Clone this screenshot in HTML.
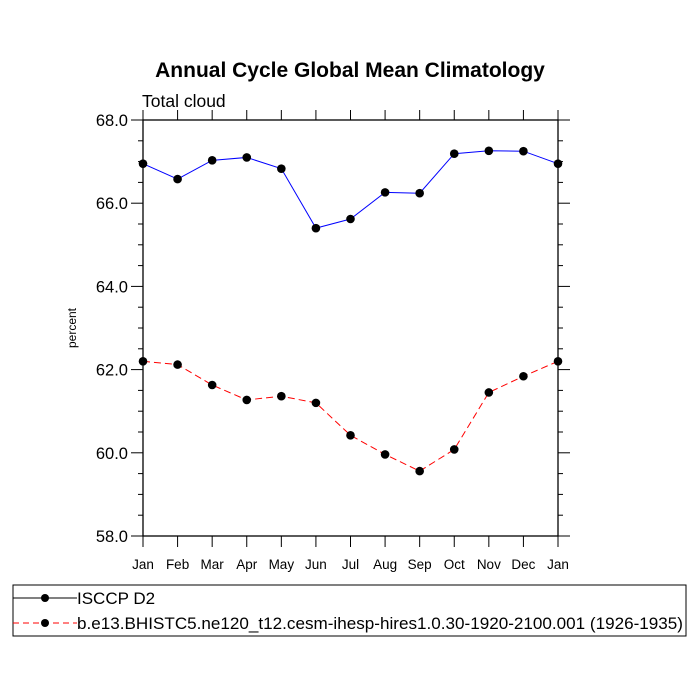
<!DOCTYPE html>
<html><head><meta charset="utf-8"><style>
html,body{margin:0;padding:0;background:#fff;}
svg{display:block;font-family:"Liberation Sans",sans-serif;}
</style></head><body>
<svg width="700" height="700" viewBox="0 0 700 700">
<text x="350" y="77" text-anchor="middle" font-size="21" font-weight="bold">Annual Cycle Global Mean Climatology</text>
<text x="142" y="107" font-size="17.5">Total cloud</text>
<text transform="translate(76,328) rotate(-90)" text-anchor="middle" font-size="12">percent</text>
<g id="axes"></g>
<g id="series"></g>
<rect x="13" y="585" width="673" height="51" fill="none" stroke="#000" stroke-width="1"/>
<g>
<line x1="13" y1="598" x2="77" y2="598" stroke="#000" stroke-width="1"/>
<circle cx="45" cy="598" r="4" fill="#000"/>
<text x="77" y="604" font-size="17">ISCCP D2</text></g>
<g>
<line x1="13" y1="623" x2="77" y2="623" stroke="#f00" stroke-width="1" stroke-dasharray="6,4"/>
<circle cx="45" cy="623" r="4" fill="#000"/>
<text x="77" y="629" font-size="17" textLength="606" lengthAdjust="spacingAndGlyphs">b.e13.BHISTC5.ne120_t12.cesm-ihesp-hires1.0.30-1920-2100.001 (1926-1935)</text></g>
</svg>
<script>
const months=["Jan","Feb","Mar","Apr","May","Jun","Jul","Aug","Sep","Oct","Nov","Dec","Jan"];
const isccp=[66.95,66.58,67.03,67.1,66.83,65.4,65.62,66.26,66.24,67.19,67.26,67.25,66.95];
const model=[62.2,62.12,61.63,61.27,61.36,61.2,60.42,59.96,59.56,60.08,61.45,61.84,62.2];
const yTicks=[58,60,62,64,66,68];
const NS="http://www.w3.org/2000/svg";
const X0=143,X1=558,Y0=536,Y1=120,YMIN=58,YMAX=68;
const xs=i=>X0+(X1-X0)*i/(months.length-1);
const ys=v=>Y0-(v-YMIN)/(YMAX-YMIN)*(Y0-Y1);
function mk(t,a,p){const e=document.createElementNS(NS,t);for(const k in a)e.setAttribute(k,a[k]);p.appendChild(e);return e;}
const ax=document.getElementById('axes');
const fr=mk('rect',{x:X0,y:Y1,width:X1-X0,height:Y0-Y1,fill:'none',stroke:'#000','stroke-width':1.3},ax);


for(let v=YMIN;v<=YMAX+1e-9;v+=0.5){
  const y=ys(v),major=Math.abs(v/2-Math.round(v/2))<1e-9;
  const L=major?12:5;
  mk('line',{x1:X0-L,y1:y,x2:X0,y2:y,stroke:'#000','stroke-width':1},ax);
  mk('line',{x1:X1,y1:y,x2:X1+L,y2:y,stroke:'#000','stroke-width':1},ax);
}
yTicks.forEach(v=>{
  const t=mk('text',{x:X0-15,y:ys(v)+6,'text-anchor':'end','font-size':16.5},ax);
  t.textContent=v.toFixed(1);
  
  
});
months.forEach((m,i)=>{
  const x=xs(i);
  mk('line',{x1:x,y1:Y0,x2:x,y2:Y0+11,stroke:'#000','stroke-width':1},ax);
  mk('line',{x1:x,y1:Y1,x2:x,y2:Y1-10,stroke:'#000','stroke-width':1},ax);
  const t=mk('text',{x:x,y:Y0+33,'text-anchor':'middle','font-size':13.5},ax);
  t.textContent=m;
  
  
});
const sg=document.getElementById('series');
function series(vals,color,dash,name){
  const g=mk('g',{},sg);
  
  
  const pl=mk('polyline',{points:vals.map((v,i)=>xs(i)+','+ys(v)).join(' '),fill:'none',stroke:color,'stroke-width':1,'stroke-dasharray':dash},g);
  
  
  vals.forEach((v,i)=>{
    const c=mk('circle',{cx:xs(i),cy:ys(v),r:4.3,fill:'#000'},g);
    
    
  });
}
series(isccp,'#00f','none','isccp-series');
series(model,'#f00','7,4','model-series');
</script>
</body></html>
